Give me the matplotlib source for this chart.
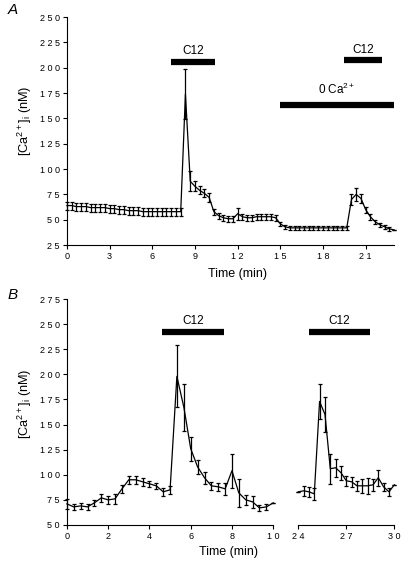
import numpy as np
import matplotlib
matplotlib.use('Agg')
import matplotlib.pyplot as plt
from matplotlib.ticker import FuncFormatter

plt.rcParams['font.family'] = 'Liberation Sans'
plt.rcParams['mathtext.fontset'] = 'custom'
plt.rcParams['mathtext.rm'] = 'Liberation Sans'
plt.rcParams['mathtext.it'] = 'Liberation Sans:italic'

# panel A, samples every 20 s
tA = [0.0, 0.33, 0.67, 1.0, 1.33, 1.67, 2.0, 2.33, 2.67, 3.0, 3.33, 3.67, 4.0, 4.33,
      4.67, 5.0, 5.33, 5.67, 6.0, 6.33, 6.67, 7.0, 7.33, 7.67, 8.0, 8.33, 8.67, 9.0,
      9.33, 9.67, 10.0, 10.33, 10.67, 11.0, 11.33, 11.67, 12.0, 12.33, 12.67, 13.0,
      13.33, 13.67, 14.0, 14.33, 14.67, 15.0, 15.33, 15.67, 16.0, 16.33, 16.67, 17.0,
      17.33, 17.67, 18.0, 18.33, 18.67, 19.0, 19.33, 19.67, 20.0, 20.33, 20.67, 21.0,
      21.33, 21.67, 22.0, 22.33, 22.67, 23.0]
caA = [64, 64, 63, 63, 63, 62, 62, 62, 62, 61, 61, 60, 60, 59, 59, 59, 58, 58, 58, 58,
       58, 58, 58, 58, 58, 174, 88, 83, 79, 76, 72, 58, 54, 52, 51, 51, 56, 53, 52, 52,
       53, 53, 53, 53, 52, 46, 43, 42, 42, 42, 42, 42, 42, 42, 42, 42, 42, 42, 42, 42,
       70, 75, 71, 60, 53, 48, 45, 43, 41, 40]
errA = [4, 4, 4, 4, 4, 4, 4, 4, 4, 4, 4, 4, 4, 4, 4, 4, 4, 4, 4, 4,
        4, 4, 4, 4, 4, 25, 10, 5, 4, 4, 4, 3, 3, 3, 3, 3, 6, 3, 3, 3,
        3, 3, 3, 3, 3, 2, 2, 2, 2, 2, 2, 2, 2, 2, 2, 2, 2, 2, 2, 2,
        5, 6, 4, 3, 3, 2, 2, 2, 2, 0]

# panel B, first part
tB1 = [0.0, 0.33, 0.67, 1.0, 1.33, 1.67, 2.0, 2.33, 2.67, 3.0, 3.33, 3.67, 4.0, 4.33,
       4.67, 5.0, 5.33, 5.67, 6.0, 6.33, 6.67, 7.0, 7.33, 7.67, 8.0, 8.33, 8.67, 9.0,
       9.33, 9.67, 10.0]
caB1 = [71, 68, 69, 68, 72, 77, 75, 76, 86, 95, 95, 93, 91, 89, 83, 85, 198, 167, 126,
        108, 97, 89, 88, 86, 104, 82, 75, 73, 67, 68, 72]
errB1 = [5, 3, 3, 3, 3, 4, 4, 5, 4, 4, 4, 4, 3, 3, 4, 4, 31, 23, 12,
         7, 6, 4, 4, 6, 17, 14, 5, 6, 3, 3, 0]

# panel B, second part
tB2 = [24.0, 24.33, 24.67, 25.0, 25.33, 25.67, 26.0, 26.33, 26.67, 27.0, 27.33, 27.67,
       28.0, 28.33, 28.67, 29.0, 29.33, 29.67, 30.0]
caB2 = [83, 84, 83, 81, 173, 160, 106, 107, 102, 94, 93, 89, 89, 89, 90, 97, 88, 83, 90]
errB2 = [0, 5, 5, 6, 17, 17, 15, 9, 7, 5, 5, 5, 7, 8, 6, 8, 4, 4, 0]

spaced = FuncFormatter(lambda v, p: ' '.join(str(int(round(v)))))
ylab = r'[Ca$^{2+}$]$_{\rm i}$ (nM)'


def style(ax, left=True):
    for s in ['top', 'right']:
        ax.spines[s].set_visible(False)
    if not left:
        ax.spines['left'].set_visible(False)
        ax.tick_params(axis='y', left=False, labelleft=False)
    ax.tick_params(direction='out', length=3, width=0.8, labelsize=6.5, pad=2)
    ax.xaxis.set_major_formatter(spaced)
    ax.yaxis.set_major_formatter(spaced)
    ax.patch.set_alpha(0)


def trace(ax, t, y, e):
    ax.errorbar(t, y, yerr=e, color='black', lw=0.9, elinewidth=0.9,
                capsize=1.6, capthick=0.9, clip_on=False)


def bar(ax, x0, x1, y, label, dy):
    ax.plot([x0, x1], [y, y], color='black', lw=4.5, solid_capstyle='butt', clip_on=False)
    ax.text((x0 + x1) / 2, y + dy, label, ha='center', va='bottom', fontsize=8.5)


fig = plt.figure(figsize=(4.08, 5.70), dpi=100)

# ---- A ----
axA = fig.add_axes([0.164, 0.570, 0.802, 0.400])
trace(axA, tA, caA, errA)
axA.set_xlim(0, 23)
axA.set_ylim(25, 250)
axA.set_xticks([0, 3, 6, 9, 12, 15, 18, 21])
axA.set_yticks(np.arange(25, 251, 25))
style(axA)
bar(axA, 7.35, 10.4, 206, 'C12', 5)
bar(axA, 19.45, 22.15, 208, 'C12', 4)
bar(axA, 14.98, 23.0, 163.5, r'0 Ca$^{2+}$', 8)
fig.text(0.581, 0.519, 'Time (min)', ha='center', va='center', fontsize=9)
fig.text(0.060, 0.788, ylab, rotation=90, ha='center', va='center', fontsize=9.2)
fig.text(0.018, 0.982, 'A', fontsize=11, style='italic', ha='left', va='center')

# ---- B ----
axB1 = fig.add_axes([0.164, 0.0790, 0.5057, 0.3964])
trace(axB1, tB1, caB1, errB1)
axB1.set_xlim(0, 10)
axB1.set_ylim(50, 275)
axB1.set_xticks([0, 2, 4, 6, 8, 10])
axB1.set_yticks(np.arange(50, 276, 25))
style(axB1)
bar(axB1, 4.62, 7.6, 242.5, 'C12', 5)

axB2 = fig.add_axes([0.7311, 0.0790, 0.2353, 0.3964])
trace(axB2, tB2, caB2, errB2)
axB2.set_xlim(24, 30)
axB2.set_ylim(50, 275)
axB2.set_xticks([24, 27, 30])
style(axB2, left=False)
bar(axB2, 24.67, 28.5, 242.5, 'C12', 5)

fig.text(0.561, 0.032, 'Time (min)', ha='center', va='center', fontsize=9)
fig.text(0.060, 0.292, ylab, rotation=90, ha='center', va='center', fontsize=9.2)
fig.text(0.018, 0.483, 'B', fontsize=11, style='italic', ha='left', va='center')

fig.savefig('out.png', dpi=100)
